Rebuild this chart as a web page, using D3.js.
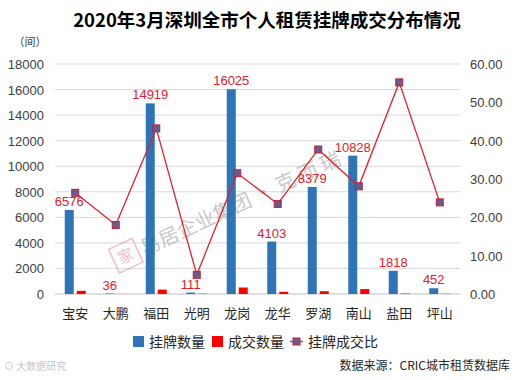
<!DOCTYPE html>
<html>
<head>
<meta charset="utf-8">
<script src="https://cdn.jsdelivr.net/npm/d3@7"></script>
<style>
body { margin: 0; background: #fff; }
text { font-family: "Noto Sans CJK SC", "Liberation Sans", sans-serif; }
</style>
</head>
<body>
<svg id="chart" width="518" height="380"></svg>
<script>
// data
var districts = ["宝安","大鹏","福田","光明","龙岗","龙华","罗湖","南山","盐田","坪山"];
var listed = [6576, 36, 14919, 111, 16025, 4103, 8379, 10828, 1818, 452];
var deals = [249, 2, 345, 22, 509, 175, 222, 385, 33, 19];
var ratio = [26.4, 18.0, 43.2, 5.0, 31.5, 23.5, 37.7, 28.1, 55.2, 23.9];
var leftTicks = [0, 2000, 4000, 6000, 8000, 10000, 12000, 14000, 16000, 18000];
var rightTicks = [0, 10, 20, 30, 40, 50, 60];

var blue = "#2e75b6", red = "#ff0000", lineRed = "#e0202a";

var svg = d3.select("#chart");
var plotLeft = 55, plotRight = 460, plotTop = 64, plotBottom = 294;

var x = d3.scaleBand().domain(districts).range([plotLeft, plotRight]);
var yL = d3.scaleLinear().domain([0, 18000]).range([plotBottom, plotTop]);
var yR = d3.scaleLinear().domain([0, 60]).range([plotBottom, plotTop]);

function cx(i) { return x(districts[i]) + x.bandwidth() / 2; }

// title
svg.append("text").attr("x", 267).attr("y", 27).attr("text-anchor", "middle")
    .style("font-size", "18.5px").style("font-weight", "bold").text("2020年3月深圳全市个人租赁挂牌成交分布情况");
svg.append("text").attr("x", 30).attr("y", 46).attr("text-anchor", "middle")
    .style("font-size", "11px").attr("fill", "#404040").text("（间）");

// gridlines
svg.append("g").selectAll("line").data(leftTicks).enter().append("line")
    .attr("x1", plotLeft).attr("x2", plotRight)
    .attr("y1", function(d){ return yL(d); }).attr("y2", function(d){ return yL(d); })
    .attr("stroke", function(d){ return d == 0 ? "#bfbfbf" : "#d9d9d9"; }).attr("stroke-width", 1);

// axes labels
svg.append("g").selectAll("text").data(leftTicks).enter().append("text")
    .attr("x", 44).attr("y", function(d){ return yL(d) + 5; })
    .attr("text-anchor", "end").style("font-size", "13px").attr("fill", "#404040")
    .style("font-family", "Arial, 'Liberation Sans', sans-serif")
    .text(function(d){ return d; });
svg.append("g").selectAll("text").data(rightTicks).enter().append("text")
    .attr("x", 470).attr("y", function(d){ return yR(d) + 5; })
    .style("font-size", "13px").attr("fill", "#404040")
    .style("font-family", "Arial, 'Liberation Sans', sans-serif")
    .text(function(d){ return d.toFixed(2); });
svg.append("g").selectAll("text").data(districts).enter().append("text")
    .attr("x", function(d, i){ return cx(i); }).attr("y", 318)
    .attr("text-anchor", "middle").style("font-size", "13px").attr("fill", "#262626")
    .text(function(d){ return d; });

// watermark
var wm = svg.append("g").attr("transform", "translate(128,258) rotate(-25)").attr("opacity", 0.4);
wm.append("rect").attr("x", -14).attr("y", -16).attr("width", 26).attr("height", 26)
    .attr("fill", "none").attr("stroke", "#e06070").attr("stroke-width", 1.5);
wm.append("text").attr("x", -1).attr("y", 3).attr("text-anchor", "middle")
    .style("font-size", "16px").attr("fill", "#e06070").text("家");
wm.append("text").attr("x", 16).attr("y", 5)
    .style("font-size", "20px").attr("fill", "#7a7a7a").text("易居企业集团 · 克 而 瑞");

// bars
var bw = 9;
svg.append("g").selectAll("rect").data(listed).enter().append("rect")
    .attr("x", function(d, i){ return cx(i) - 10.5; })
    .attr("y", function(d){ return yL(d); })
    .attr("width", bw).attr("height", function(d){ return plotBottom - yL(d); })
    .attr("fill", blue);
svg.append("g").selectAll("rect").data(deals).enter().append("rect")
    .attr("x", function(d, i){ return cx(i) + 1.5; })
    .attr("y", function(d){ return yL(d); })
    .attr("width", bw).attr("height", function(d){ return plotBottom - yL(d); })
    .attr("fill", red);

// line
var line = d3.line()
    .x(function(d, i){ return cx(i); })
    .y(function(d){ return yR(d); });
svg.append("path").datum(ratio).attr("d", line)
    .attr("fill", "none").attr("stroke", lineRed).attr("stroke-width", 1.3);
svg.append("g").selectAll("rect").data(ratio).enter().append("rect")
    .attr("x", function(d, i){ return cx(i) - 3.5; })
    .attr("y", function(d){ return yR(d) - 3.5; })
    .attr("width", 7).attr("height", 7)
    .attr("fill", "#6b5b8c").attr("stroke", "#c0203a").attr("stroke-width", 1);

// data labels
svg.append("g").selectAll("text").data(listed).enter().append("text")
    .attr("x", function(d, i){ return cx(i) - 6; })
    .attr("y", function(d){ return yL(d) - 4; })
    .attr("text-anchor", "middle").style("font-size", "13px").attr("fill", "#e0202a")
    .style("font-family", "Arial, 'Liberation Sans', sans-serif")
    .text(function(d){ return d; });

// legend
var lg = svg.append("g").attr("transform", "translate(0,341)");
lg.append("rect").attr("x", 133).attr("y", -5).attr("width", 11).attr("height", 11).attr("fill", blue);
lg.append("text").attr("x", 149).attr("y", 5.5).style("font-size", "14px").attr("fill", "#262626").text("挂牌数量");
lg.append("rect").attr("x", 212).attr("y", -5).attr("width", 11).attr("height", 11).attr("fill", red);
lg.append("text").attr("x", 228).attr("y", 5.5).style("font-size", "14px").attr("fill", "#262626").text("成交数量");
lg.append("line").attr("x1", 290).attr("x2", 303).attr("y1", 0.5).attr("y2", 0.5).attr("stroke", lineRed).attr("stroke-width", 1.3);
lg.append("rect").attr("x", 293).attr("y", -3).attr("width", 7).attr("height", 7)
    .attr("fill", "#6b5b8c").attr("stroke", "#c0203a");
lg.append("text").attr("x", 308).attr("y", 5.5).style("font-size", "14px").attr("fill", "#262626").text("挂牌成交比");

// source
svg.append("text").attr("x", 510).attr("y", 370).attr("text-anchor", "end")
    .style("font-size", "12px").attr("fill", "#262626").text("数据来源：CRIC城市租赁数据库");
svg.append("text").attr("x", 4).attr("y", 370)
    .style("font-size", "10px").attr("fill", "#c8c8c8").text("⊙ 大数据研究");
</script>
</body>
</html>
